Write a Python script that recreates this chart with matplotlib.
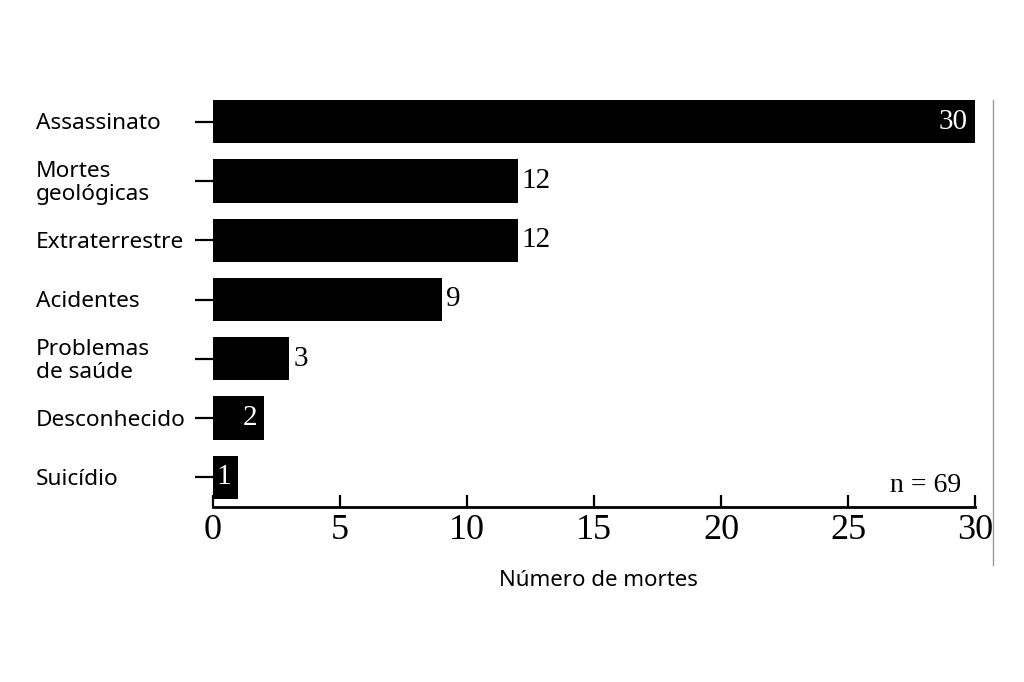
import matplotlib
matplotlib.use("Agg")
import matplotlib.pyplot as plt
from matplotlib.transforms import blended_transform_factory, offset_copy
from matplotlib.lines import Line2D

# data
categorias = ["Assassinato", "Mortes\ngeológicas", "Extraterrestre", "Acidentes",
              "Problemas\nde saúde", "Desconhecido", "Suicídio"]
mortes = [30, 12, 12, 9, 3, 2, 1]
rotulo_dentro = [True, False, False, False, False, True, True]
xticks = [0, 5, 10, 15, 20, 25, 30]

sans = "Noto Sans"
serif = "Liberation Serif"

fig = plt.figure(figsize=(10.24, 6.82), dpi=100)
ax = fig.add_axes([213/1024, 1-507/682, (975-213)/1024, (507-92)/682])

ypos = list(range(len(categorias)))
ax.barh(ypos, mortes, height=0.73, color="black")
ax.set_xlim(0, 30)
ax.set_ylim(6.5, -0.5)

for s in ["top", "right", "left"]:
    ax.spines[s].set_visible(False)
ax.spines["bottom"].set_linewidth(2.0)

ax.set_xticks(xticks)
ax.set_xticklabels([str(t) for t in xticks], fontfamily=serif, fontsize=26)
ax.tick_params(axis="x", direction="in", length=9, width=1.6, pad=5)
ax.set_yticks(ypos)
ax.set_yticklabels([])
ax.tick_params(axis="y", direction="out", length=13, width=1.6)

# category labels, left aligned
tr = blended_transform_factory(fig.transFigure, ax.transData)
for y, c in zip(ypos, categorias):
    t = offset_copy(tr, fig=fig, x=0, y=-2, units="dots")
    ax.text(36/1024, y, c, transform=t, ha="left", va="center",
            fontfamily=sans, fontsize=16.3, linespacing=1.12)

# value labels
for y, v, dentro in zip(ypos, mortes, rotulo_dentro):
    if dentro:
        t = offset_copy(ax.transData, fig=fig, x=-7, y=0, units="dots")
        ax.text(v, y, str(v), transform=t, ha="right", va="center",
                color="white", fontfamily=serif, fontsize=21)
    else:
        t = offset_copy(ax.transData, fig=fig, x=4, y=0, units="dots")
        ax.text(v, y, str(v), transform=t, ha="left", va="center",
                color="black", fontfamily=serif, fontsize=21)

ax.text(961/1024, 1-485/682, "n = 69", transform=fig.transFigure, ha="right",
        va="center", fontfamily=serif, fontsize=20)

fig.text(598/1024, 1-580/682, "Número de mortes", ha="center", va="center",
         fontfamily=sans, fontsize=16)

# thin grey rule at right
fig.add_artist(Line2D([993/1024, 993/1024], [1-100/682, 1-565/682],
                      transform=fig.transFigure, color="#999999", lw=1))

fig.savefig("out.png", dpi=100)
